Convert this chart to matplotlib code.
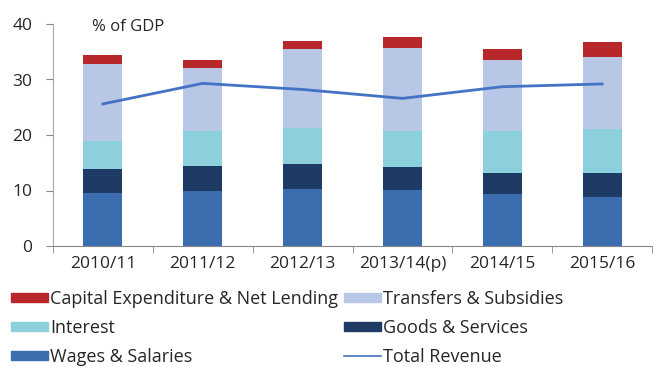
import matplotlib
matplotlib.use("Agg")
import matplotlib.pyplot as plt
import numpy as np
from matplotlib.patches import Patch
from matplotlib.lines import Line2D

plt.rcParams['font.family'] = ['Open Sans', 'DejaVu Sans']

years = ["2010/11", "2011/12", "2012/13", "2013/14(p)", "2014/15", "2015/16"]
wages = [9.6, 10.0, 10.2, 10.1, 9.3, 8.9]
goods = [4.2, 4.4, 4.6, 4.2, 3.9, 4.3]
interest = [5.1, 6.4, 6.4, 6.4, 7.6, 7.9]
transfers = [13.9, 11.3, 14.3, 15.0, 12.7, 13.0]
capex = [1.6, 1.5, 1.4, 2.0, 2.0, 2.6]
total_revenue = [25.6, 29.3, 28.2, 26.6, 28.7, 29.2]

c_wages = "#3B6DAF"
c_goods = "#1E3B66"
c_interest = "#8CCFDD"
c_transfers = "#B7C7E5"
c_capex = "#B8272A"
c_line = "#4472C4"
c_text = "#262626"

fig = plt.figure(figsize=(6.53, 3.67), dpi=100)
ax = fig.add_axes([53/653, 1-246/367, 599/653, 222/367])

x = np.arange(len(years))
w = 0.39
bottom = np.zeros(len(years))
for vals, col in [(wages, c_wages), (goods, c_goods), (interest, c_interest),
                  (transfers, c_transfers), (capex, c_capex)]:
    ax.bar(x, vals, w, bottom=bottom, color=col, edgecolor='none')
    bottom += np.array(vals)

ax.plot(x, total_revenue, color=c_line, lw=2)

ax.set_xlim(-0.5, len(years) - 0.5)
ax.set_ylim(0, 40)
ax.set_yticks([0, 10, 20, 30, 40])
ax.set_xticks(x)
ax.set_xticklabels(years)
ax.set_xticks(np.arange(-0.5, len(years)), minor=True)
ax.tick_params(axis='x', which='major', length=0, pad=7, labelsize=12.5,
               labelcolor=c_text)
ax.tick_params(axis='x', which='minor', length=5, color='#888888')
ax.tick_params(axis='y', length=5, color='#888888', labelsize=12.5, pad=10,
               labelcolor=c_text)
for s in ['top', 'right']:
    ax.spines[s].set_visible(False)
ax.spines['left'].set_color('#AAAAAA')
ax.spines['bottom'].set_color('#888888')

fig.text(92/653, 1-26.7/367, "% of GDP", fontsize=12, va='center', ha='left',
         color=c_text)

handles = [
    Patch(color=c_capex, label="Capital Expenditure & Net Lending"),
    Patch(color=c_interest, label="Interest"),
    Patch(color=c_wages, label="Wages & Salaries"),
    Patch(color=c_transfers, label="Transfers & Subsidies"),
    Patch(color=c_goods, label="Goods & Services"),
    Line2D([0], [0], color=c_line, lw=1.2, label="Total Revenue"),
]
leg = fig.legend(handles=handles, ncol=2, loc='lower left',
                 bbox_to_anchor=(11/653, 1/367), frameon=False,
                 fontsize=13, handlelength=2.05, handleheight=0.4,
                 handletextpad=0.1, columnspacing=0.35, labelspacing=0.62,
                 borderaxespad=0, borderpad=0)
for t in leg.get_texts():
    t.set_color(c_text)

fig.savefig("out.png", dpi=100)
